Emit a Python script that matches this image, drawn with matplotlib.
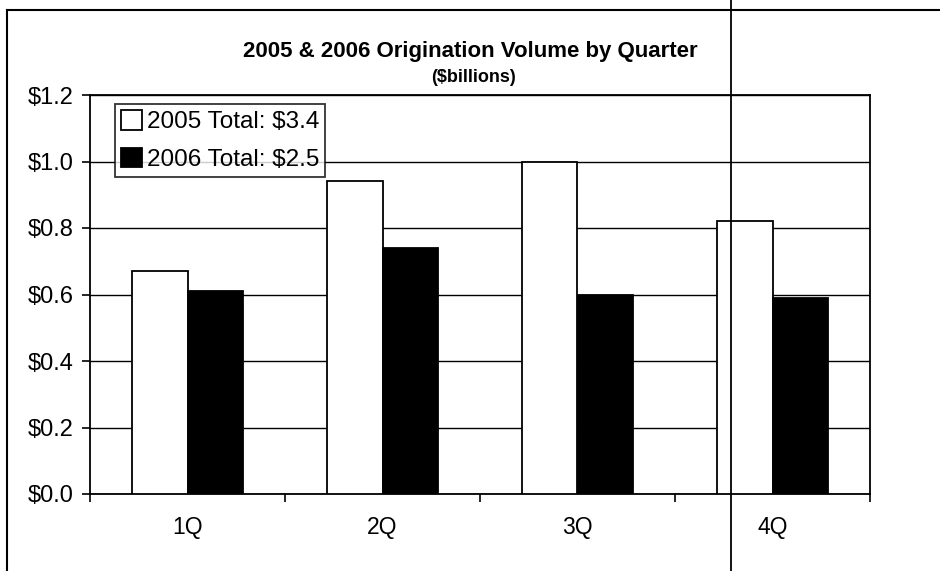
import matplotlib.pyplot as plt
import numpy as np

plt.rcParams['font.family'] = ['Liberation Sans', 'DejaVu Sans']

# Data ($billions)
quarters = ['1Q', '2Q', '3Q', '4Q']
vol_2005 = [0.67, 0.94, 1.00, 0.82]
vol_2006 = [0.61, 0.74, 0.60, 0.59]
labels = ['2005 Total: $3.4', '2006 Total: $2.5']
yticks = [0.0, 0.2, 0.4, 0.6, 0.8, 1.0, 1.2]

fig = plt.figure(figsize=(9.4, 5.71), dpi=100)
ax = fig.add_axes([90 / 940, 1 - 494 / 571, 780 / 940, 399 / 571])

x = np.arange(len(quarters))
w = 0.285
ax.bar(x - w / 2, vol_2005, w, color='white', edgecolor='black', linewidth=1.3,
       label=labels[0], zorder=3)
ax.bar(x + w / 2, vol_2006, w, color='black', edgecolor='black', linewidth=1.3,
       label=labels[1], zorder=3)

ax.set_xlim(-0.5, len(quarters) - 0.5)
ax.set_ylim(0, 1.2)
ax.set_yticks(yticks)
ax.set_yticklabels(['$%.1f' % v for v in yticks], fontsize=17)
ax.yaxis.grid(True, color='black', linewidth=1.0, zorder=0)

# category labels between the boundary ticks
ax.set_xticks(np.arange(-0.5, len(quarters)), minor=False)
ax.set_xticklabels([])
ax.set_xticks(x, minor=True)
ax.set_xticklabels(quarters, minor=True, fontsize=16.5)
ax.tick_params(axis='x', which='major', direction='out', length=6, width=1.2)
ax.tick_params(axis='x', which='minor', length=0, pad=16)
ax.tick_params(axis='y', direction='out', length=6, width=1.2, pad=6)

for s in ax.spines.values():
    s.set_linewidth(1.3)
    s.set_color('black')

leg = ax.legend(loc='upper left', bbox_to_anchor=(0.032, 0.977), fontsize=17.5,
                frameon=True, fancybox=False, edgecolor='black',
                handlelength=0.85, handleheight=0.85, handletextpad=0.2,
                borderpad=0.25, labelspacing=0.6, borderaxespad=0)
leg.get_frame().set_linewidth(1.3)
leg.set_zorder(5)

fig.text(470 / 940, 1 - 52 / 571, '2005 & 2006 Origination Volume by Quarter',
         ha='center', va='center', fontsize=16, fontweight='bold')
fig.text(474 / 940, 1 - 77 / 571, '($billions)',
         ha='center', va='center', fontsize=13, fontweight='bold')

# scanned page frame lines
fig.add_artist(plt.Line2D([7 / 940, 1], [1 - 10 / 571, 1 - 10 / 571],
                          color='black', linewidth=1.5, transform=fig.transFigure))
fig.add_artist(plt.Line2D([7 / 940, 7 / 940], [0, 1 - 10 / 571],
                          color='black', linewidth=1.5, transform=fig.transFigure))
fig.add_artist(plt.Line2D([731 / 940, 731 / 940], [0, 1],
                          color='black', linewidth=1.3, transform=fig.transFigure,
                          zorder=10))

fig.savefig('out.png', dpi=100)
